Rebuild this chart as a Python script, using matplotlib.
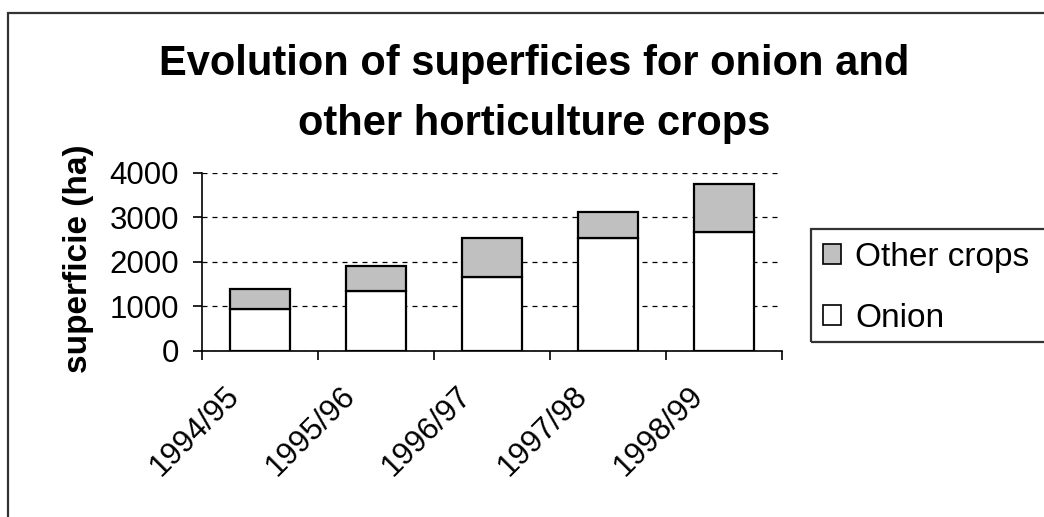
import matplotlib
matplotlib.use("Agg")
import matplotlib.pyplot as plt
from matplotlib.patches import Rectangle, Patch
from matplotlib.transforms import ScaledTranslation
import numpy as np

plt.rcParams['font.family'] = ['Liberation Sans', 'DejaVu Sans']

seasons = ["1994/95", "1995/96", "1996/97", "1997/98", "1998/99"]
onion = [950, 1340, 1650, 2540, 2680]
other_crops = [450, 560, 890, 570, 1070]
yticks = [0, 1000, 2000, 3000, 4000]

W, H = 1044, 517
fig = plt.figure(figsize=(W / 100, H / 100), dpi=100)

# chart-area border (extends beyond the image on right/bottom)
fig.patches.append(Rectangle((8 / W, -0.2), 1.5, 1.2 - 13 / H, transform=fig.transFigure,
                             fill=False, edgecolor='#333333', linewidth=1.6, zorder=0))

ax = fig.add_axes([202 / W, 1 - 351 / H, (782 - 202) / W, (351 - 172.7) / H])

x = np.arange(len(seasons)) + 0.5
ax.bar(x, onion, width=0.52, color='white', edgecolor='black', linewidth=1.6, zorder=3, label='Onion')
ax.bar(x, other_crops, width=0.52, bottom=onion, color='#C0C0C0', edgecolor='black', linewidth=1.6,
       zorder=3, label='Other crops')

ax.set_xlim(0, len(seasons))
ax.set_ylim(0, 4000)
ax.set_yticks(yticks)
ax.set_yticklabels([str(v) for v in yticks], fontsize=22.5)
ax.tick_params(axis='y', direction='out', length=6.5, width=1.2, pad=10)

ax.set_xticks(np.arange(len(seasons) + 1))
ax.set_xticklabels([])
ax.tick_params(axis='x', which='major', direction='out', length=6.5, width=1.2)
ax.set_xticks(x, minor=True)
ax.set_xticklabels(seasons, minor=True, rotation=45, ha='right', rotation_mode='anchor', fontsize=22.5)
ax.tick_params(axis='x', which='minor', length=0, pad=13)
off = ScaledTranslation(-0.36, -0.12, fig.dpi_scale_trans)
for lab in ax.get_xticklabels(minor=True):
    lab.set_transform(lab.get_transform() + off)

for s in ['top', 'right']:
    ax.spines[s].set_visible(False)
for s in ['left', 'bottom']:
    ax.spines[s].set_linewidth(1.2)

ax.yaxis.grid(True, linestyle=(0, (4, 4)), color='black', linewidth=0.9, zorder=0)
ax.set_axisbelow(True)

ax.set_ylabel('superficie (ha)', fontsize=24, fontweight='bold')
ax.yaxis.set_label_coords(-0.186, 0.516)

fig.text(534 / W, 1 - 94 / H, 'Evolution of superficies for onion and\nother horticulture crops',
         ha='center', va='center', fontsize=30, fontweight='bold', linespacing=1.62)

# legend box (extends past the right edge)
fig.patches.append(Rectangle((811 / W, 1 - 342 / H), 0.5, (342 - 229) / H, transform=fig.transFigure,
                             fill=False, edgecolor='#333333', linewidth=1.6, zorder=5))
handles = [Patch(facecolor='#C0C0C0', edgecolor='black', linewidth=1.2, label='Other crops'),
           Patch(facecolor='white', edgecolor='black', linewidth=1.2, label='Onion')]
fig.legend(handles=handles, loc='center left', bbox_to_anchor=(823 / W, 1 - 288 / H),
           frameon=False, fontsize=24, handlelength=0.55, handleheight=0.55,
           handletextpad=0.42, labelspacing=0.9, borderpad=0, borderaxespad=0)

fig.savefig('out.png', dpi=100)
